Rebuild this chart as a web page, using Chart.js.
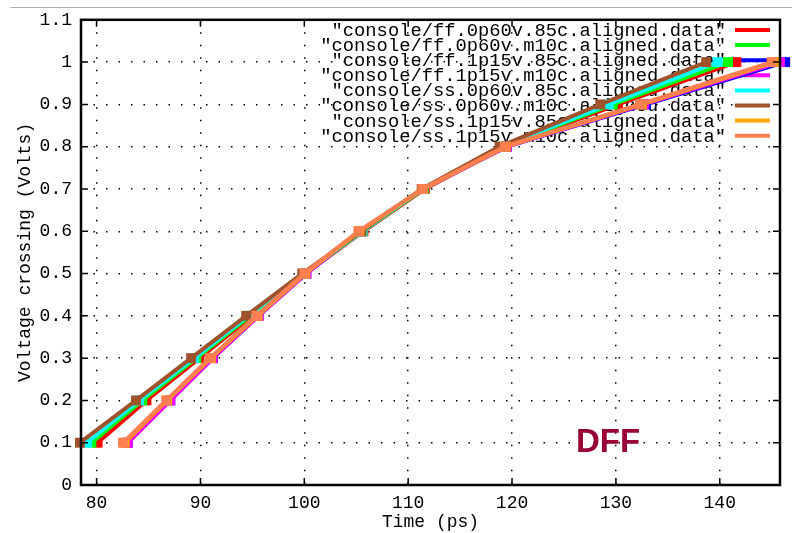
<!DOCTYPE html>
<html><head><meta charset="utf-8">
<script src="https://cdn.jsdelivr.net/npm/chart.js@4/dist/chart.umd.min.js"></script>
<style>html,body{margin:0;padding:0;background:#fff}#wrap{width:792px;height:533px;position:relative}</style>
</head><body><div id="wrap"><canvas id="c" width="792" height="533"></canvas></div>
<script>
// Voltage levels (y) shared by all series
const levels = [0.1, 0.2, 0.3, 0.4, 0.5, 0.6, 0.7, 0.8, 0.9, 1.0];
const seriesNames = [
  'console/ff.0p60v.85c.aligned.data',
  'console/ff.0p60v.m10c.aligned.data',
  'console/ff.1p15v.85c.aligned.data',
  'console/ff.1p15v.m10c.aligned.data',
  'console/ss.0p60v.85c.aligned.data',
  'console/ss.0p60v.m10c.aligned.data',
  'console/ss.1p15v.85c.aligned.data',
  'console/ss.1p15v.m10c.aligned.data'
];
// Time (ps) at which each level is crossed
const ff0p60v85c  = [80.1, 84.8, 89.9, 95.0, 100.1, 105.7, 111.6, 119.3, 130.2, 141.6];
const ff0p60vm10c = [79.5, 84.4, 89.6, 94.8, 100.0, 105.6, 111.5, 119.1, 129.7, 140.8];
const ff1p15v85c  = [83.0, 87.1, 91.2, 95.6, 100.2, 105.4, 111.4, 119.5, 132.9, 146.3];
const ff1p15vm10c = [83.0, 87.1, 91.2, 95.6, 100.2, 105.4, 111.4, 119.5, 132.7, 145.8];
const ss0p60v85c  = [79.1, 84.1, 89.4, 94.6, 99.9, 105.6, 111.4, 119.0, 129.3, 139.8];
const ss0p60vm10c = [78.4, 83.8, 89.1, 94.4, 99.8, 105.5, 111.3, 118.8, 128.5, 138.7];
const ss1p15v85c  = [82.7, 86.8, 91.0, 95.5, 100.1, 105.3, 111.4, 119.4, 132.5, 145.3];
const ss1p15vm10c = [82.55, 86.7, 90.9, 95.4, 100.0, 105.2, 111.4, 119.3, 132.3, 145.0];
const seriesValues = [ff0p60v85c, ff0p60vm10c, ff1p15v85c, ff1p15vm10c, ss0p60v85c, ss0p60vm10c, ss1p15v85c, ss1p15vm10c];

const xTickValues = [80, 90, 100, 110, 120, 130, 140];
const yTickValues = [0, 0.1, 0.2, 0.3, 0.4, 0.5, 0.6, 0.7, 0.8, 0.9, 1.0, 1.1];
const yTickLabels = ['0', '0.1', '0.2', '0.3', '0.4', '0.5', '0.6', '0.7', '0.8', '0.9', '1', '1.1'];
const xTitle = 'Time (ps)';
const yTitle = 'Voltage crossing (Volts)';
const annotationText = 'DFF';

const colors = ['#ff0000', '#00ff00', '#0000ff', '#ff00ff', '#00ffff', '#a0522d', '#ffa500', '#ff7f50'];
const MONO = '"Liberation Mono", "DejaVu Sans Mono", monospace';

const datasets = seriesNames.map((n, i) => ({
  label: '"' + n + '"',
  data: seriesValues[i].map((t, k) => ({x: t, y: levels[k]})),
  borderColor: colors[i],
  backgroundColor: colors[i],
  borderWidth: 4,
  pointStyle: 'rect',
  pointRadius: 7,
  pointBorderWidth: 0,
  tension: 0,
  clip: false,
  order: seriesNames.length - i
}));

const decor = {
  id: 'decor',
  beforeDraw(chart) {
    const ctx = chart.ctx;
    ctx.save();
    ctx.strokeStyle = '#b0b0b0';
    ctx.lineWidth = 1;
    ctx.beginPath(); ctx.moveTo(10, 7.5); ctx.lineTo(792, 7.5); ctx.stroke();
    ctx.restore();
  },
  beforeDatasetsDraw(chart) {
    const ctx = chart.ctx;
    ctx.save();
    ctx.font = '18.8px ' + MONO;
    ctx.textAlign = 'right';
    ctx.textBaseline = 'middle';
    ctx.fillStyle = '#000';
    chart.data.datasets.forEach((ds, i) => {
      const y = 30 + i * 15.1;
      ctx.fillText(ds.label, 726, y + 1);
      ctx.strokeStyle = ds.borderColor;
      ctx.lineWidth = 4;
      ctx.beginPath(); ctx.moveTo(735, y); ctx.lineTo(770, y); ctx.stroke();
    });
    ctx.restore();
  },
  afterDraw(chart) {
    const ctx = chart.ctx;
    const a = chart.chartArea;
    const xs = chart.scales.x, ys = chart.scales.y;
    ctx.save();
    ctx.strokeStyle = '#000';
    ctx.lineWidth = 1.5;
    ctx.beginPath();
    xTickValues.forEach(v => {
      const px = xs.getPixelForValue(v);
      ctx.moveTo(px, a.bottom); ctx.lineTo(px, a.bottom - 7);
      ctx.moveTo(px, a.top); ctx.lineTo(px, a.top + 7);
    });
    yTickValues.forEach(v => {
      const py = ys.getPixelForValue(v);
      ctx.moveTo(a.left, py); ctx.lineTo(a.left + 7, py);
      ctx.moveTo(a.right, py); ctx.lineTo(a.right - 7, py);
    });
    ctx.stroke();
    ctx.lineWidth = 2.5;
    ctx.strokeRect(a.left, a.top, a.right - a.left, a.bottom - a.top);
    ctx.fillStyle = '#99003a';
    ctx.font = 'bold 33px "Liberation Sans", Arial, sans-serif';
    ctx.textAlign = 'left';
    ctx.textBaseline = 'alphabetic';
    ctx.fillText(annotationText, 576, 452);
    ctx.restore();
  }
};

new Chart(document.getElementById('c'), {
  type: 'line',
  data: {datasets},
  options: {
    responsive: false,
    animation: false,
    devicePixelRatio: 1,
    layout: {padding: {top: 17, right: 12, left: 0, bottom: 0}},
    plugins: {legend: {display: false}, tooltip: {enabled: false}},
    scales: {
      x: {
        type: 'linear',
        min: 78.5, max: 145.8,
        afterBuildTicks: s => { s.ticks = xTickValues.map(v => ({value: v})); },
        afterFit: s => { s.height = 48; },
        ticks: {color: '#000', font: {family: MONO, size: 18}, padding: 7, maxRotation: 0, callback: v => String(v)},
        grid: {color: '#000', lineWidth: 1.5, drawTicks: false},
        border: {display: false, dash: [1.5, 11]},
        title: {display: true, text: xTitle, color: '#000', font: {family: MONO, size: 18}, padding: {top: 0, bottom: 0}}
      },
      y: {
        type: 'linear',
        min: 0, max: 1.1,
        afterBuildTicks: s => { s.ticks = yTickValues.map(v => ({value: v})); },
        afterFit: s => { s.width = 81; },
        ticks: {color: '#000', font: {family: MONO, size: 18}, padding: 9, callback: (v, i) => yTickLabels[i]},
        grid: {color: '#000', lineWidth: 1.5, drawTicks: false},
        border: {display: false, dash: [1.5, 11]},
        title: {display: true, text: yTitle, color: '#000', font: {family: MONO, size: 18}, padding: {top: 14, bottom: 0}}
      }
    }
  },
  plugins: [decor]
});
</script>
</body></html>
